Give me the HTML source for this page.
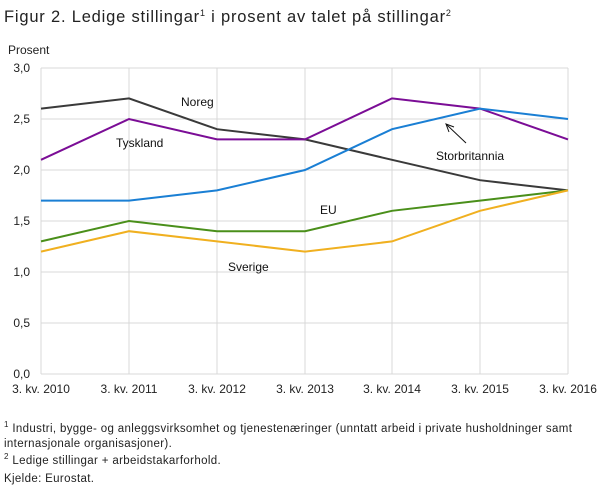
<!DOCTYPE html>
<html><head><meta charset="utf-8"><style>
body{margin:0;background:#fff;font-family:"Liberation Sans",sans-serif;}
</style></head><body>
<svg width="609" height="488" xmlns="http://www.w3.org/2000/svg" font-family="Liberation Sans, sans-serif">
<text x="4" y="22" font-size="16.5" fill="#222" letter-spacing="0.8">Figur 2. Ledige stillingar<tspan font-size="9" dy="-6">1</tspan><tspan dy="6">  i prosent av talet på stillingar</tspan><tspan font-size="9" dy="-6">2</tspan></text>
<text x="8" y="54" font-size="12" fill="#222">Prosent</text>
<g stroke="#d9d9d9" stroke-width="1">
<line x1="41" y1="68" x2="568" y2="68"/><line x1="41" y1="119" x2="568" y2="119"/><line x1="41" y1="170" x2="568" y2="170"/><line x1="41" y1="221" x2="568" y2="221"/><line x1="41" y1="272" x2="568" y2="272"/><line x1="41" y1="323" x2="568" y2="323"/><line x1="41" y1="374" x2="568" y2="374"/>
<line x1="41" y1="68" x2="41" y2="374"/><line x1="129" y1="68" x2="129" y2="374"/><line x1="217" y1="68" x2="217" y2="374"/><line x1="305" y1="68" x2="305" y2="374"/><line x1="392" y1="68" x2="392" y2="374"/><line x1="480" y1="68" x2="480" y2="374"/><line x1="568" y1="68" x2="568" y2="374"/>
</g>
<g font-size="12" fill="#222" text-anchor="end">
<text x="30" y="72">3,0</text><text x="30" y="123">2,5</text><text x="30" y="174">2,0</text><text x="30" y="225">1,5</text><text x="30" y="276">1,0</text><text x="30" y="327">0,5</text><text x="30" y="378">0,0</text>
</g>
<g font-size="12" fill="#222" text-anchor="middle">
<text x="41" y="393">3. kv. 2010</text><text x="129" y="393">3. kv. 2011</text><text x="217" y="393">3. kv. 2012</text><text x="305" y="393">3. kv. 2013</text><text x="392" y="393">3. kv. 2014</text><text x="480" y="393">3. kv. 2015</text><text x="568" y="393">3. kv. 2016</text>
</g>
<g fill="none" stroke-width="2">
<polyline stroke="#3a3a3a" points="41,108.6 129,98.4 217,129.2 305,139.4 392,159.8 480,180.2 568,190.4"/>
<polyline stroke="#7b0d96" points="41,159.8 129,119 217,139.4 305,139.4 392,98.4 480,108.6 568,139.4"/>
<polyline stroke="#1a7fd4" points="41,200.6 129,200.6 217,190.4 305,170 392,129.2 480,108.6 568,119"/>
<polyline stroke="#4a8f1a" points="41,241.4 129,221 217,231.2 305,231.2 392,210.8 480,200.6 568,190.4"/>
<polyline stroke="#f0b020" points="41,251.6 129,231.2 217,241.4 305,251.6 392,241.4 480,210.8 568,190.4"/>
</g>
<g font-size="12" fill="#111">
<text x="181" y="106">Noreg</text>
<text x="116" y="147">Tyskland</text>
<text x="436" y="160">Storbritannia</text>
<text x="320" y="214">EU</text>
<text x="228" y="271">Sverige</text>
</g>
<line x1="466" y1="143" x2="447" y2="125" stroke="#111" stroke-width="1"/>
<polyline points="449,132 446,124 454,127" fill="none" stroke="#111" stroke-width="1"/>
<g font-size="11.5" fill="#222" letter-spacing="0.35">
<text x="4" y="432"><tspan font-size="8" dy="-5">1</tspan><tspan dy="5"> Industri, bygge- og anleggsvirksomhet og tjenestenæringer (unntatt arbeid i private husholdninger  samt</tspan></text>
<text x="4" y="447">internasjonale organisasjoner).</text>
<text x="4" y="464"><tspan font-size="8" dy="-5">2</tspan><tspan dy="5"> Ledige stillingar + arbeidstakarforhold.</tspan></text>
<text x="4" y="482">Kjelde: Eurostat.</text>
</g>
</svg>
</body></html>
